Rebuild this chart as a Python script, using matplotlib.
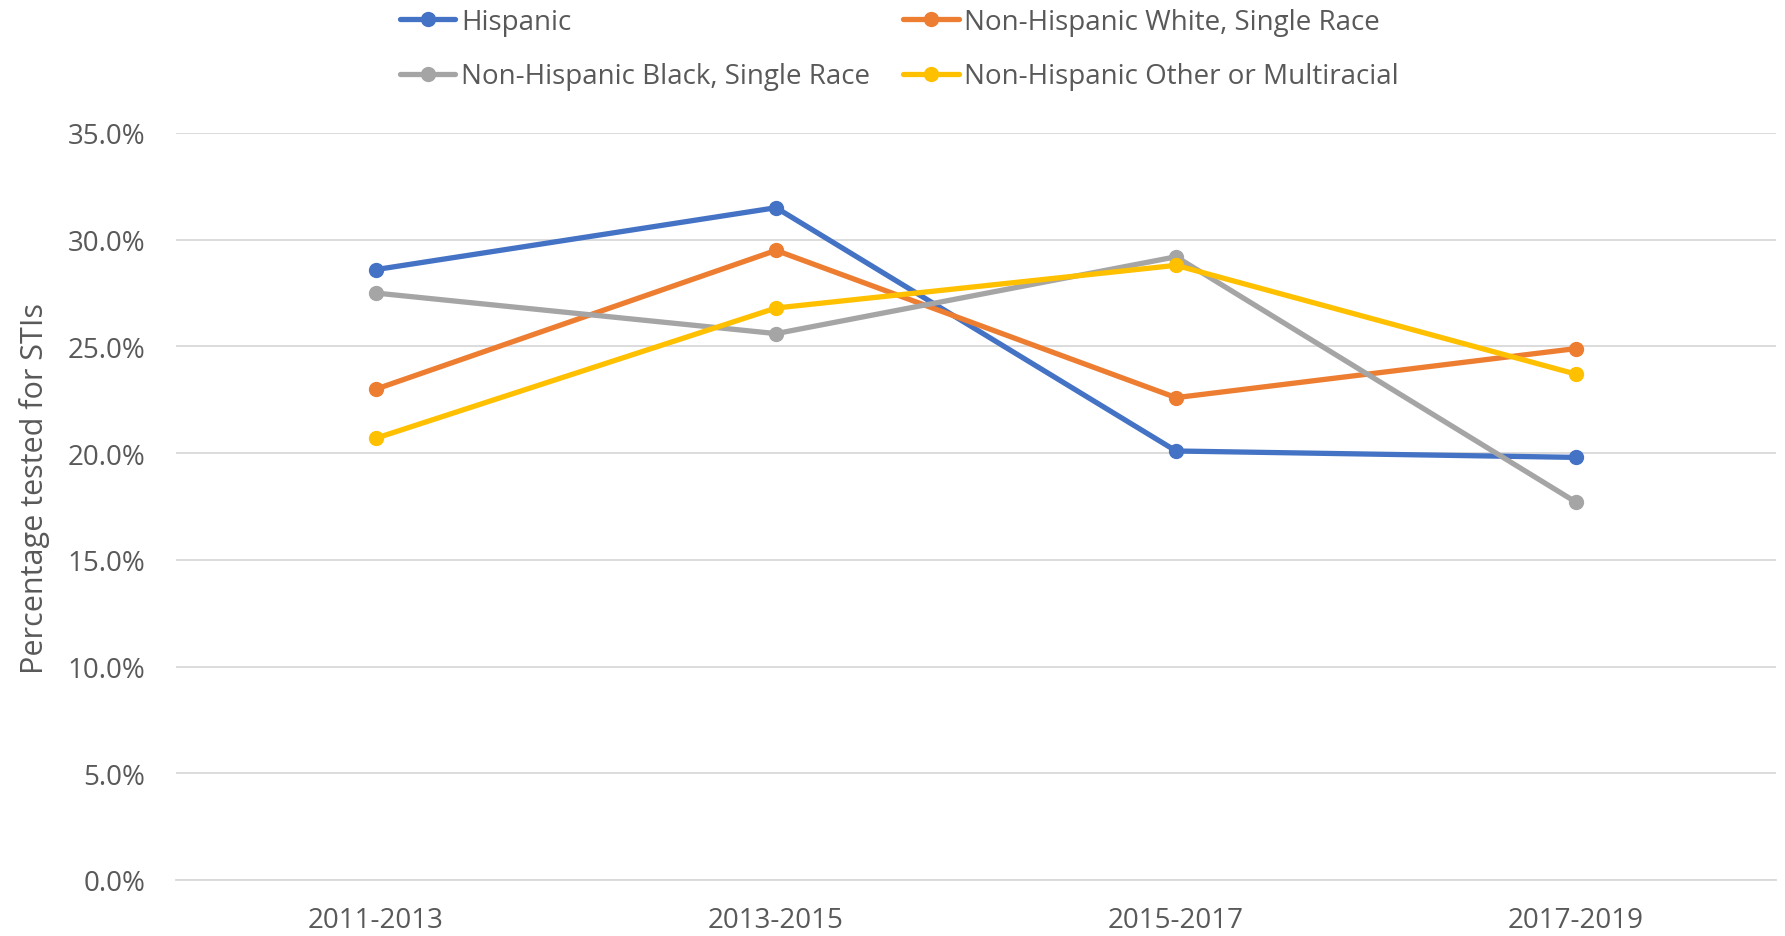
import matplotlib
matplotlib.use("Agg")
import matplotlib.pyplot as plt
from matplotlib.ticker import FuncFormatter

periods = ["2011-2013", "2013-2015", "2015-2017", "2017-2019"]
hispanic = [28.6, 31.5, 20.1, 19.8]
white = [23.0, 29.5, 22.6, 24.9]
black = [27.5, 25.6, 29.2, 17.7]
other = [20.7, 26.8, 28.8, 23.7]

series = [
    ("Hispanic", hispanic, "#4472C4"),
    ("Non-Hispanic White, Single Race", white, "#ED7D31"),
    ("Non-Hispanic Black, Single Race", black, "#A5A5A5"),
    ("Non-Hispanic Other or Multiracial", other, "#FFC000"),
]

TEXT = "#595959"
GRID = "#D9D9D9"
plt.rcParams["font.family"] = ["Open Sans", "DejaVu Sans"]

fig = plt.figure(figsize=(17.85, 9.37), dpi=100)
ax = fig.add_axes([0.0986, 0.0598, 0.8964, 0.7972])

x = list(range(len(periods)))
handles = {}
for name, vals, col in series:
    (h,) = ax.plot(x, [v / 100 for v in vals], color=col, linewidth=3.8,
                   marker="o", markersize=10, label=name, solid_capstyle="round")
    handles[name] = h

ax.set_xlim(-0.5, 3.5)
ax.set_ylim(0, 0.35)
ax.set_yticks([i * 0.05 for i in range(8)])
ax.yaxis.set_major_formatter(FuncFormatter(lambda v, _: f"{v * 100:.1f}%"))
ax.set_xticks(x)
ax.set_xticklabels(periods)
ax.tick_params(axis="both", length=0, labelsize=20, colors=TEXT)
ax.tick_params(axis="x", pad=19)
ax.tick_params(axis="y", pad=22)
ax.grid(axis="y", color=GRID, linewidth=1.3)
ax.set_axisbelow(True)
for s in ["top", "right", "left"]:
    ax.spines[s].set_visible(False)
ax.spines["bottom"].set_color(GRID)
ax.spines["bottom"].set_linewidth(1.3)
ax.set_ylabel("Percentage tested for STIs", fontsize=22, color=TEXT)
ax.yaxis.set_label_coords(-0.079, 0.526)

order = ["Hispanic", "Non-Hispanic Black, Single Race",
         "Non-Hispanic White, Single Race", "Non-Hispanic Other or Multiracial"]
leg = fig.legend([handles[n] for n in order], order, ncol=2, loc="upper left",
                 bbox_to_anchor=(0.210, 1.017), frameon=False, fontsize=20,
                 handlelength=2.0, handletextpad=0.2, columnspacing=1.2,
                 labelspacing=0.95, labelcolor=TEXT)

fig.savefig("out.png", dpi=100)
